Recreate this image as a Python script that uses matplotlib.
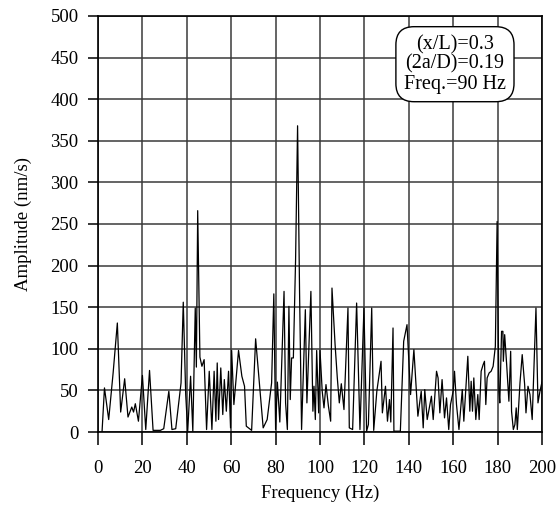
import matplotlib.pyplot as plt

# spectrum read at x/L = 0.3, 2a/D = 0.19, forcing at 90 Hz
freq = [1.8, 2.9, 4.8, 6.8, 8.7, 10.2, 12.0, 13.5, 15.2, 16.0, 16.8, 18.2, 20.0,
        21.5, 23.2, 24.8, 28.1, 29.6, 31.9, 33.3, 35.0, 37.4, 38.4, 39.5, 40.4,
        41.7, 42.7, 43.8, 44.3, 44.9, 45.9, 46.8, 47.8, 48.9, 50.1, 51.3, 52.3,
        53.1, 53.7, 54.3, 55.3, 56.2, 56.9, 57.8, 58.8, 59.7, 60.2, 61.2, 63.3,
        64.8, 66.0, 66.8, 69.2, 71.0, 74.4, 76.2, 78.2, 79.2, 80.0, 80.8, 81.9,
        83.8, 84.5, 85.3, 86.0, 86.6, 87.2, 88.0, 89.0, 89.9, 90.8, 91.7, 93.4,
        94.1, 95.9, 96.8, 97.3, 97.9, 98.5, 99.4, 100.0, 101.0, 101.8, 102.7,
        103.8, 104.8, 105.4, 106.8, 107.8, 108.7, 109.6, 110.8, 112.6, 113.2,
        114.7, 116.5, 118.0, 119.8, 121.0, 121.8, 123.3, 124.2, 125.6, 127.5,
        128.1, 129.5, 130.4, 131.3, 131.9, 132.9, 133.3, 136.2, 137.7, 139.2,
        140.8, 142.3, 144.1, 145.6, 146.5, 147.2, 148.3, 150.2, 151.0, 152.5,
        153.2, 154.0, 155.0, 156.1, 157.0, 158.0, 158.8, 160.0, 160.6, 161.5,
        162.6, 164.1, 164.8, 166.6, 167.5, 168.1, 168.7, 169.3, 170.2, 171.1,
        171.7, 172.6, 173.5, 174.1, 174.7, 175.3, 176.2, 177.1, 178.0, 179.0,
        179.8, 180.6, 181.0, 181.8, 182.4, 182.6, 183.2, 184.1, 185.1, 185.9,
        186.3, 187.1, 187.8, 188.4, 188.9, 190.1, 191.1, 192.2, 192.8, 193.7,
        194.6, 195.6, 196.7, 197.3, 198.2, 199.1, 200.0]
amp = [0, 53, 15, 71, 131, 24, 64, 18, 30, 24, 34, 13, 68,
       3, 74, 2, 2, 4, 49, 3, 4, 59, 156, 45, 1,
       67, 1, 149, 78, 266, 90, 79, 87, 3, 73, 3, 73,
       13, 83, 15, 77, 21, 63, 25, 73, 5, 98, 33, 98,
       67, 55, 7, 2, 112, 5, 15, 59, 166, 3, 60, 12,
       169, 35, 3, 151, 39, 89, 89, 207, 368, 167, 3, 147,
       35, 169, 25, 55, 15, 98, 23, 98, 49, 29, 57,
       31, 13, 173, 105, 65, 35, 58, 27, 149, 5,
       3, 155, 3, 149, 1, 9, 149, 2, 49, 85,
       23, 55, 13, 39, 12, 125, 1, 1, 109, 129,
       45, 99, 19, 49, 5, 51, 15, 43, 15, 73,
       65, 23, 63, 17, 41, 3, 33, 49, 73, 33,
       3, 51, 13, 91, 25, 61, 25, 65, 15, 45,
       15, 73, 81, 85, 33, 65, 71, 73, 79, 103,
       253, 49, 35, 121, 121, 85, 117, 81, 37, 97,
       25, 3, 9, 29, 3, 59, 93, 57, 23, 55,
       45, 15, 101, 149, 35, 49, 60]

x_ticks = list(range(0, 201, 20))
y_ticks = list(range(0, 501, 50))
info = "(x/L)=0.3\n(2a/D)=0.19\nFreq.=90 Hz"

plt.rcParams['font.family'] = ['Liberation Serif', 'DejaVu Serif']
plt.rcParams['font.size'] = 13.5

fig = plt.figure(figsize=(5.57, 5.14), dpi=100)
ax = fig.add_axes([0.176, 0.1595, 0.797, 0.8095])

ax.plot(freq, amp, color='black', lw=0.9)

ax.set_xlim(0, 200)
ax.set_ylim(0, 500)
ax.set_xticks(x_ticks)
ax.set_yticks(y_ticks)
ax.grid(True, color='#3a3a3a', lw=1.1)
ax.set_axisbelow(True)
for s in ax.spines.values():
    s.set_color('black')
    s.set_linewidth(1.2)
ax.tick_params(axis='x', direction='out', length=9, width=1.1, pad=11)
ax.tick_params(axis='y', direction='out', length=7, width=1.1, pad=7)

ax.set_xlabel("Frequency (Hz)", labelpad=6)
ax.set_ylabel("Amplitude (nm/s)", labelpad=13)

ax.text(160.8, 442, info, ha='center', va='center', fontsize=14.5,
        linespacing=1.05,
        bbox=dict(boxstyle='round,pad=0.4,rounding_size=0.9', fc='white',
                  ec='black', lw=1.0))

fig.savefig("out.png", dpi=100)
